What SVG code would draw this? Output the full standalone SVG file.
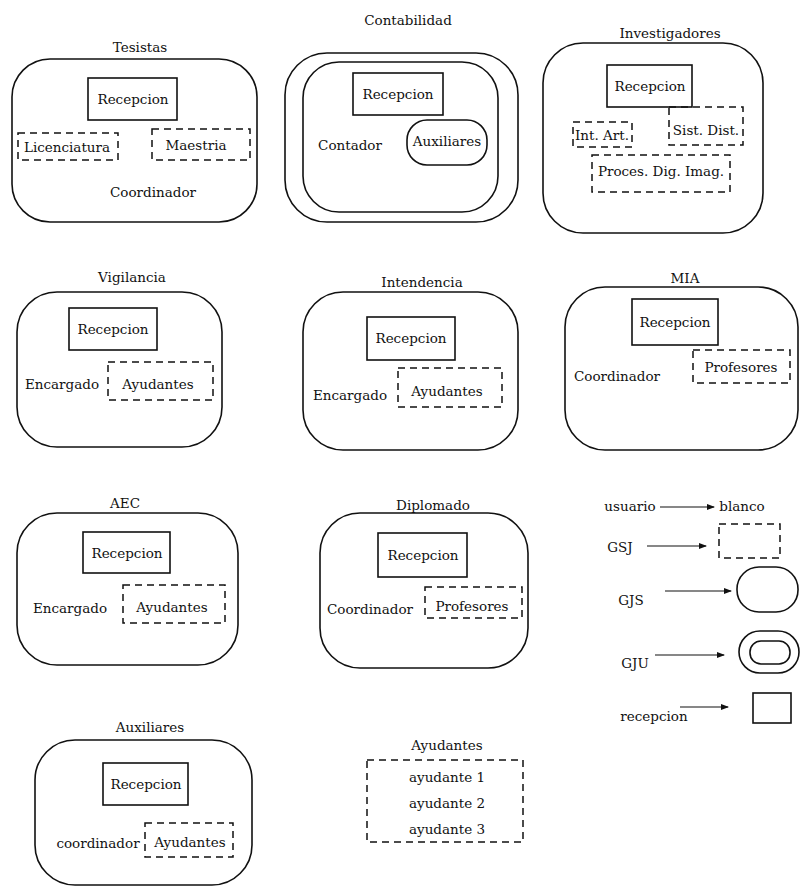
<svg xmlns="http://www.w3.org/2000/svg" width="800" height="891" viewBox="0 0 800 891">
<defs>
<style>
text{font-family:"DejaVu Serif","Liberation Serif",serif;font-size:13.5px;fill:#111;text-anchor:middle}
.b{fill:none;stroke:#111;stroke-width:1.6}
.d{fill:none;stroke:#111;stroke-width:1.5;stroke-dasharray:7 5}
.a{stroke:#111;stroke-width:1.2;fill:none}
</style>
<marker id="ah" markerWidth="8" markerHeight="6" refX="7" refY="3" orient="auto" markerUnits="userSpaceOnUse">
<path d="M0,0 L8,3 L0,6 Z" fill="#111"/>
</marker>
</defs>
<rect width="800" height="891" fill="#fff"/>

<g id="tesistas">
<text x="140" y="52">Tesistas</text>
<rect class="b" x="12" y="59" width="245" height="163" rx="38"/>
<rect class="b" x="88" y="78" width="89" height="42"/>
<text x="133" y="104">Recepcion</text>
<rect class="d" x="18" y="133" width="100" height="27"/>
<text x="67" y="152">Licenciatura</text>
<rect class="d" x="152" y="129" width="98" height="31"/>
<text x="196" y="150">Maestria</text>
<text x="153" y="197">Coordinador</text>
</g>

<g id="contabilidad">
<text x="408" y="25">Contabilidad</text>
<rect class="b" x="285" y="53" width="233" height="169" rx="42"/>
<rect class="b" x="303" y="62" width="195" height="150" rx="36"/>
<rect class="b" x="353" y="73" width="90" height="42"/>
<text x="398" y="99">Recepcion</text>
<rect class="b" x="407" y="120" width="80" height="45" rx="20"/>
<text x="447" y="146">Auxiliares</text>
<text x="350" y="150">Contador</text>
</g>

<g id="investigadores">
<text x="670" y="38">Investigadores</text>
<rect class="b" x="543" y="43" width="220" height="190" rx="40"/>
<rect class="b" x="607" y="65" width="85" height="42"/>
<text x="650" y="91">Recepcion</text>
<rect class="d" x="573" y="122" width="59" height="25"/>
<text x="602" y="140">Int. Art.</text>
<rect class="d" x="669" y="107" width="74" height="38"/>
<text x="706" y="135">Sist. Dist.</text>
<rect class="d" x="592" y="155" width="138" height="37"/>
<text x="661" y="176">Proces. Dig. Imag.</text>
</g>

<g id="vigilancia">
<text x="132" y="282">Vigilancia</text>
<rect class="b" x="17" y="292" width="205" height="155" rx="40"/>
<rect class="b" x="69" y="308" width="88" height="42"/>
<text x="113" y="334">Recepcion</text>
<rect class="d" x="108" y="362" width="105" height="38"/>
<text x="158" y="389">Ayudantes</text>
<text x="62" y="389">Encargado</text>
</g>

<g id="intendencia">
<text x="422" y="287">Intendencia</text>
<rect class="b" x="303" y="292" width="215" height="158" rx="40"/>
<rect class="b" x="367" y="317" width="88" height="43"/>
<text x="411" y="343">Recepcion</text>
<rect class="d" x="398" y="368" width="104" height="39"/>
<text x="447" y="396">Ayudantes</text>
<text x="350" y="400">Encargado</text>
</g>

<g id="mia">
<text x="685" y="283">MIA</text>
<rect class="b" x="565" y="287" width="233" height="163" rx="40"/>
<rect class="b" x="632" y="299" width="86" height="46"/>
<text x="675" y="327">Recepcion</text>
<rect class="d" x="693" y="350" width="97" height="33"/>
<text x="741" y="372">Profesores</text>
<text x="617" y="381">Coordinador</text>
</g>

<g id="aec">
<text x="125" y="508">AEC</text>
<rect class="b" x="17" y="513" width="221" height="152" rx="40"/>
<rect class="b" x="83" y="532" width="87" height="41"/>
<text x="127" y="558">Recepcion</text>
<rect class="d" x="123" y="585" width="102" height="38"/>
<text x="172" y="612">Ayudantes</text>
<text x="70" y="613">Encargado</text>
</g>

<g id="diplomado">
<text x="433" y="510">Diplomado</text>
<rect class="b" x="320" y="513" width="208" height="155" rx="40"/>
<rect class="b" x="378" y="533" width="89" height="44"/>
<text x="423" y="560">Recepcion</text>
<rect class="d" x="425" y="587" width="97" height="31"/>
<text x="472" y="611">Profesores</text>
<text x="370" y="614">Coordinador</text>
</g>

<g id="auxiliares">
<text x="150" y="732">Auxiliares</text>
<rect class="b" x="35" y="740" width="217" height="145" rx="40"/>
<rect class="b" x="103" y="763" width="85" height="42"/>
<text x="146" y="789">Recepcion</text>
<rect class="d" x="145" y="823" width="88" height="34"/>
<text x="190" y="847">Ayudantes</text>
<text x="98" y="848">coordinador</text>
</g>

<g id="ayudantes">
<text x="447" y="750">Ayudantes</text>
<rect class="d" x="367" y="760" width="156" height="82"/>
<text x="447" y="782">ayudante 1</text>
<text x="447" y="808">ayudante 2</text>
<text x="447" y="834">ayudante 3</text>
</g>

<g id="legend">
<text x="630" y="511">usuario</text>
<text x="742" y="511">blanco</text>
<text x="620" y="552">GSJ</text>
<rect class="d" x="719" y="524" width="61" height="34"/>
<text x="631" y="605">GJS</text>
<rect class="b" x="737" y="567" width="61" height="45" rx="22"/>
<text x="635" y="668">GJU</text>
<rect class="b" x="739" y="631" width="60" height="42" rx="21"/>
<rect class="b" x="750" y="641" width="40" height="23" rx="11"/>
<text x="654" y="721">recepcion</text>
<rect class="b" x="753" y="693" width="38" height="30"/>
</g>

<g id="connectors">
<line class="a" x1="660" y1="507" x2="714" y2="507" marker-end="url(#ah)"/>
<line class="a" x1="647" y1="546" x2="706" y2="546" marker-end="url(#ah)"/>
<line class="a" x1="665" y1="591" x2="731" y2="591" marker-end="url(#ah)"/>
<line class="a" x1="655" y1="655" x2="724" y2="655" marker-end="url(#ah)"/>
<line class="a" x1="680" y1="707" x2="728" y2="707" marker-end="url(#ah)"/>
</g>
</svg>
